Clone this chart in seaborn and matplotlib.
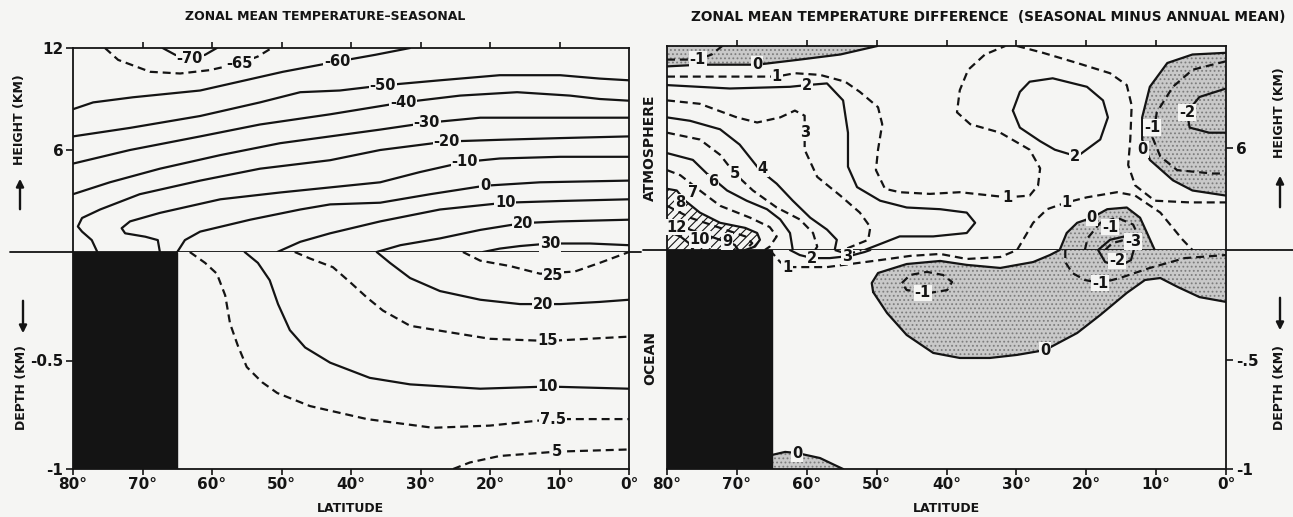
import matplotlib
matplotlib.use("Agg")
import matplotlib.pyplot as plt
from matplotlib.patches import FancyArrowPatch
import seaborn as sns

# ---------------------------------------------------------------------------
# Left panel: zonal mean temperature, seasonal (deg C).
# Each isoline: (level, latitudes in deg, heights in km)
# ---------------------------------------------------------------------------
TEMP_ATM = [
    (-70, [67.1, 65.3, 63.2, 61.0, 59.3], [12, 11.6, 11.4, 11.6, 12]),
    (-65, [75.4, 73.5, 68.9, 64.6, 60.3, 56.0, 53.4, 51.4],
          [12, 11.3, 10.6, 10.5, 10.7, 11.1, 11.5, 12]),
    (-60, [80, 77.1, 71.4, 61.7, 49.8, 42.0, 36.5, 31.5],
          [8.4, 8.8, 9.1, 9.5, 10.6, 11.2, 11.6, 12]),
    (-50, [80, 71.8, 61.7, 53.1, 47.3, 41.6, 35.4, 27.2, 18.6, 9.9, 4.2, 0],
          [6.8, 7.3, 8.0, 8.8, 9.4, 9.5, 9.8, 10.1, 10.4, 10.4, 10.2, 10.1]),
    (-40, [80, 71.8, 61.7, 53.1, 43.0, 32.5, 24.3, 16.1, 8.5, 4.2, 0],
          [5.2, 6.0, 6.8, 7.5, 8.1, 8.8, 9.2, 9.4, 9.2, 9.0, 8.9]),
    (-30, [80, 74.7, 67.5, 58.8, 50.2, 43.0, 35.8, 29.1, 21.4, 11.4, 0],
          [3.4, 4.1, 4.9, 5.7, 6.4, 6.8, 7.2, 7.6, 7.9, 7.9, 7.9]),
    (-20, [76.5, 77.3, 78.7, 79.3, 78.7, 76.1, 70.4, 61.7, 53.1, 43.0, 35.8, 26.2, 18.6, 9.9, 0],
          [0, 0.7, 1.2, 1.5, 2.0, 2.5, 3.4, 4.2, 4.9, 5.4, 6.0, 6.5, 6.6, 6.7, 6.8]),
    (-10, [67.5, 67.8, 69.6, 72.5, 73.0, 71.8, 67.5, 58.8, 50.2, 43.0, 35.8, 30.1, 23.6, 18.6, 9.9, 0],
          [0, 0.7, 0.9, 1.1, 1.4, 1.8, 2.3, 3.1, 3.5, 3.8, 4.1, 4.7, 5.3, 5.5, 5.6, 5.6]),
    (0, [65.0, 63.9, 61.7, 54.5, 47.3, 43.0, 35.8, 28.6, 20.7, 12.8, 0],
        [0, 0.7, 1.2, 1.9, 2.5, 2.8, 2.9, 3.4, 3.9, 4.1, 4.2]),
    (10, [50.6, 47.3, 43.0, 35.8, 27.2, 17.8, 9.9, 0],
         [0, 0.6, 1.1, 1.8, 2.5, 2.9, 3.0, 3.1]),
    (20, [36.3, 32.9, 27.2, 21.4, 15.3, 9.9, 0], [0, 0.4, 0.8, 1.3, 1.7, 1.8, 1.9]),
    (30, [21.0, 18.6, 15.7, 11.4, 5.6, 0], [0, 0.2, 0.35, 0.5, 0.5, 0.4]),
]
TEMP_ATM_LABELS = [(-70, 63.2, 11.4), (-65, 56.0, 11.1), (-60, 42.0, 11.2), (-50, 35.4, 9.8),
                   (-40, 32.5, 8.8), (-30, 29.1, 7.6), (-20, 26.2, 6.5), (-10, 23.6, 5.3),
                   (0, 20.7, 3.9), (10, 17.8, 2.9), (20, 15.3, 1.7), (30, 11.4, 0.5)]

# ocean: depth in km (negative downwards)
TEMP_OCEAN = [
    (7.5, [63.2, 61.0, 59.3, 58.1, 57.4, 56.3, 55.0, 52.8, 50.6, 45.9, 37.7, 28.2, 20.0, 10.9, 0],
          [0, -0.05, -0.1, -0.2, -0.33, -0.43, -0.53, -0.6, -0.65, -0.71, -0.77, -0.81, -0.8, -0.77, -0.77]),
    (10, [55.3, 53.4, 51.7, 50.5, 48.8, 46.6, 43.0, 37.3, 31.5, 21.4, 11.7, 0],
         [0, -0.05, -0.13, -0.24, -0.36, -0.44, -0.51, -0.58, -0.61, -0.63, -0.62, -0.63]),
    (15, [48.1, 45.9, 42.6, 40.1, 37.7, 35.4, 31.5, 25.8, 20.0, 11.7, 0],
         [0, -0.03, -0.07, -0.14, -0.21, -0.27, -0.34, -0.37, -0.4, -0.41, -0.39]),
    (20, [36.3, 34.4, 31.5, 27.2, 21.4, 15.7, 9.9, 4.2, 0],
         [0, -0.05, -0.12, -0.18, -0.22, -0.24, -0.24, -0.23, -0.22]),
    (25, [23.9, 21.4, 17.1, 12.8, 7.8, 4.2, 0], [0, -0.04, -0.065, -0.1, -0.09, -0.05, 0]),
    (5, [25.3, 22.9, 18.6, 10.4, 0], [-1.0, -0.97, -0.94, -0.92, -0.91]),
]
TEMP_OCEAN_LABELS = [(25, 10.9, -0.11), (20, 12.4, -0.24), (15, 11.7, -0.41),
                     (10, 11.7, -0.62), (7.5, 10.9, -0.77), (5, 10.4, -0.92)]

# ---------------------------------------------------------------------------
# Right panel: seasonal minus annual mean (deg C)
# ---------------------------------------------------------------------------
D0_TOP = ([80, 75.3, 67.1, 61.0, 55.2, 49.9], [10.8, 10.9, 10.9, 11.2, 11.5, 12])
D0_RIGHT = ([0, 4.8, 8.4, 10.9, 12.0, 12.0, 10.9, 7.6, 4.8, 0],
            [11.6, 11.5, 11.0, 9.6, 7.8, 6.5, 5.3, 4.1, 3.5, 3.2])
D0_BUMP = ([23.8, 22.8, 21.3, 19.2, 17.0, 14.2, 12.3, 11.3, 10.2],
           [0, 1.0, 1.6, 1.9, 2.4, 2.5, 1.9, 1.0, 0])
D8_LINE = ([80, 78.6, 77.4, 75.3, 72.4, 68.8, 67.1, 66.7, 67.4, 68.8],
           [3.6, 3.5, 2.9, 2.2, 1.6, 1.3, 1.0, 0.6, 0.2, 0])

DIFF_ATM = [
    (0, *D0_TOP),
    (-1, [80, 75.6, 73.6, 72.1], [11.2, 11.2, 11.5, 12]),
    (1, [80, 75.3, 69.6, 64.3, 61.7, 58.1, 54.5, 52.4, 49.8, 49.2, 49.8, 50.1, 48.8, 46.7,
         42.4, 38.1, 31.3, 28.1, 26.9, 26.6, 28.1, 32.3, 36.6, 38.5, 38.1, 36.9, 34.5, 31.6],
        [10.2, 10.2, 10.2, 10.2, 10.4, 10.3, 9.9, 9.3, 8.4, 7.4, 5.9, 4.7, 3.6, 3.4,
         3.3, 3.4, 3.1, 3.2, 3.8, 4.8, 5.9, 6.9, 7.4, 8.1, 9.4, 10.6, 11.5, 12]),
    (2, [80, 71.0, 62.4, 60.0, 57.1, 54.8, 54.1, 54.1, 52.8, 49.5, 45.7, 40.9, 37.1, 35.9,
         37.1, 41.9, 46.7, 49.5, 51.7],
        [9.7, 9.5, 9.6, 9.7, 9.8, 8.8, 6.9, 4.9, 3.7, 2.9, 2.5, 2.4, 2.2, 1.6,
         1.0, 0.8, 0.8, 0.35, 0]),
    (3, [80, 75.3, 70.0, 67.1, 63.8, 61.7, 60.3, 60.3, 58.5, 55.2, 52.4, 50.9, 51.2, 54.2],
        [8.8, 8.6, 7.8, 7.5, 7.8, 8.2, 7.9, 5.9, 4.3, 3.2, 2.2, 1.35, 0.6, 0.1]),
    (4, [80, 76.7, 72.4, 69.6, 66.7, 64.3, 62.0, 59.5, 57.1, 55.7, 56.0],
        [7.8, 7.6, 7.1, 6.2, 4.7, 3.9, 2.9, 1.9, 1.2, 0.6, 0]),
    (5, [80, 75.3, 72.4, 70.3, 67.7, 64.3, 61.0, 59.1, 58.5, 58.8],
        [6.9, 6.5, 5.6, 4.5, 3.5, 2.5, 1.8, 1.0, 0.2, 0]),
    (6, [80, 76.3, 74.3, 71.4, 68.6, 65.7, 63.8, 62.4, 62.0],
        [5.7, 5.3, 4.5, 3.5, 2.9, 2.4, 1.8, 1.0, 0]),
    (7, [80, 78.1, 75.3, 72.4, 68.1, 65.3, 64.3, 65.3, 66.0],
        [4.7, 4.4, 3.5, 2.6, 1.9, 1.35, 0.8, 0.2, 0]),
    (8, *D8_LINE),
    (9, [80, 76.7, 72.4, 68.8, 67.8, 68.8], [2.6, 1.9, 1.3, 0.8, 0.4, 0]),
    (10, [80, 76.7, 73.1, 70.3, 69.8], [1.8, 1.2, 0.7, 0.3, 0]),
    (12, [80, 78.1, 76.7, 76.3], [1.1, 0.8, 0.35, 0]),
    (1, [29.9, 26.2, 21.3, 16.6, 14.2, 13.5, 13.7, 14.0, 13.0, 10.2, 5.2, 0],
        [12, 11.6, 11.0, 10.4, 9.7, 8.5, 6.5, 5.0, 3.8, 2.9, 2.8, 2.8]),
    (2, [30.5, 29.5, 28.1, 24.8, 19.9, 17.6, 16.9, 18.0, 21.3, 24.5, 26.6, 29.5, 30.5],
        [8.2, 9.3, 9.9, 10.1, 9.6, 8.8, 7.8, 6.5, 5.5, 5.9, 6.4, 7.2, 8.2]),
    (0, *D0_RIGHT),
    (-1, [0, 1.0, 4.8, 7.6, 9.9, 10.5, 9.4, 7.0, 2.0, 0],
         [11.1, 11.0, 10.6, 9.6, 8.1, 6.6, 5.5, 4.7, 4.5, 4.5]),
    (-2, [0, 3.8, 5.6, 5.2, 2.4, 0], [9.5, 9.0, 8.1, 7.2, 6.9, 6.9]),
    (0, *D0_BUMP),
    (-1, [20.2, 19.8, 18.0, 15.6, 13.3, 12.3, 12.7], [0, 0.7, 1.6, 1.9, 1.5, 0.6, 0]),
    (-2, [13.2, 13.4, 14.5, 16.6, 18.3], [0, 0.5, 0.8, 0.6, 0]),
    (-3, [17.3, 16.3, 14.5, 12.7], [0, 0.4, 0.6, 0.3]),
    (1, [29.9, 27.6, 25.6, 22.8, 19.9, 15.6, 13.0, 9.4, 6.2, 4.8],
        [0, 1.6, 2.4, 2.8, 3.1, 3.4, 3.2, 2.2, 0.6, 0]),
]
DIFF_ATM_LABELS = [(-1, 75.6, 11.2), (0, 67.1, 10.9), (1, 64.3, 10.2), (2, 60.0, 9.7),
                   (3, 60.3, 6.9), (4, 66.3, 4.8), (5, 70.3, 4.5), (6, 73.4, 4.0),
                   (7, 76.3, 3.4), (8, 78.1, 2.8), (12, 78.6, 1.35), (10, 75.3, 0.6),
                   (9, 71.4, 0.5), (2, 21.6, 5.5), (1, 31.3, 3.1), (1, 22.8, 2.8),
                   (0, 11.9, 5.9), (-1, 10.6, 7.2), (-2, 5.6, 8.1), (0, 19.2, 1.9),
                   (-1, 16.6, 1.35), (-3, 13.3, 0.5)]

D0_OCE_UPPER = ([50.5, 50.7, 49.8, 45.7, 40.9, 37.1, 32.3, 27.6, 25.2, 23.8],
                [-0.192, -0.151, -0.105, -0.064, -0.05, -0.068, -0.082, -0.055, -0.023, 0])
D0_OCE_LOWER = ([0, 3.8, 6.9, 9.4, 11.6, 14.2, 18.0, 21.3, 25.9, 29.9, 33.8, 38.1, 41.9, 45.7, 48.5, 50.5],
                [-0.237, -0.215, -0.169, -0.128, -0.137, -0.196, -0.297, -0.379, -0.457, -0.479,
                 -0.493, -0.493, -0.47, -0.388, -0.288, -0.192])
D0_BOTTOM = ([65.0, 63.1, 61.4, 58.1, 56.0, 54.8], [-0.936, -0.922, -0.927, -0.95, -0.982, -1.0])

DIFF_OCEAN = [
    (1, [65.3, 63.8, 62.8, 57.1, 49.5, 45.2, 40.9, 37.1, 32.3, 29.9],
        [0, -0.055, -0.078, -0.078, -0.046, -0.027, -0.018, -0.041, -0.032, 0]),
    (2, [62.4, 61.0, 59.2, 56.7, 53.8, 51.7, 50.9], [0, -0.023, -0.037, -0.037, -0.027, -0.009, 0]),
    (3, [56.0, 55.0, 54.2, 53.0, 52.2], [0, -0.01, -0.015, -0.01, 0]),
    (0, *D0_OCE_UPPER),
    (0, *D0_OCE_LOWER),
    (-1, [46.4, 45.2, 42.8, 40.5, 39.2, 39.9, 42.4, 45.7, 46.4],
         [-0.151, -0.114, -0.1, -0.114, -0.146, -0.183, -0.196, -0.183, -0.151]),
    (-1, [23.0, 23.0, 22.0, 20.2, 18.0, 15.2, 10.9, 5.9, 0],
         [0, -0.055, -0.105, -0.137, -0.151, -0.128, -0.082, -0.037, -0.023]),
    (-2, [18.3, 17.3, 15.2, 13.6, 13.2], [0, -0.055, -0.073, -0.046, 0]),
    (0, *D0_BOTTOM),
]
DIFF_OCEAN_LABELS = [(1, 62.8, -0.078), (2, 59.2, -0.037), (3, 54.2, -0.03), (-2, 15.6, -0.05),
                     (-1, 18.0, -0.151), (-1, 43.4, -0.196), (0, 25.9, -0.457), (0, 61.4, -0.93)]

LAND_LAT = 65
LAT_TICKS = [80, 70, 60, 50, 40, 30, 20, 10, 0]

PAPER = "#f5f5f3"
INK = "#141414"
W, H = 1293, 517

sns.set_theme(style="ticks")
plt.rcParams.update({
    "font.family": ["DejaVu Sans"],
    "font.weight": "bold",
    "hatch.linewidth": 0.8,
    "axes.linewidth": 1.3,
})

fig = plt.figure(figsize=(W / 100, H / 100), dpi=100, facecolor=PAPER)


def px_axes(x0, y0, x1, y1):
    return fig.add_axes([x0 / W, 1 - y1 / H, (x1 - x0) / W, (y1 - y0) / H])


def fig_text(x, y, s, **kw):
    fig.text(x / W, 1 - y / H, s, color=INK, fontweight="bold", ha="center", va="center", **kw)


def fig_arrow(x, y0, y1):
    fig.add_artist(FancyArrowPatch((x / W, 1 - y0 / H), (x / W, 1 - y1 / H),
                                   transform=fig.transFigure, arrowstyle="-|>",
                                   mutation_scale=11, lw=1.7, color=INK))


def draw_lines(ax, lines, is_solid):
    for level, lats, hts in lines:
        ls = "-" if is_solid(level) else (0, (3.6, 2.2))
        sns.lineplot(x=lats, y=hts, ax=ax, sort=False, estimator=None,
                     color=INK, linewidth=1.6, linestyle=ls, zorder=3)


def draw_labels(ax, labels):
    for level, lat, h in labels:
        ax.text(lat, h, f"{level:g}", ha="center", va="center", fontsize=10.5,
                fontweight="bold", color=INK, zorder=6,
                bbox=dict(boxstyle="square,pad=0.06", fc=PAPER, ec="none"))


def style_axes(ax_atm, ax_oce, side, ocean_ticklabels):
    for ax in (ax_atm, ax_oce):
        ax.set_facecolor(PAPER)
        ax.set_xlim(80, 0)
        for sp in ax.spines.values():
            sp.set_color(INK)
            sp.set_linewidth(1.3)
    ax_atm.set_ylim(0, 12)
    ax_oce.set_ylim(-1, 0)
    ax_atm.spines["bottom"].set_visible(False)
    ax_oce.spines["top"].set_visible(False)

    ax_atm.set_xticks(LAT_TICKS[1:-1])
    ax_atm.tick_params(axis="x", top=True, bottom=False, labeltop=False, labelbottom=False,
                       direction="out", length=4, width=1.2, color=INK)
    ax_oce.set_xticks(LAT_TICKS)
    ax_oce.set_xticklabels([f"{t}\u00b0" for t in LAT_TICKS])
    ax_oce.tick_params(axis="x", direction="out", length=4, width=1.2, color=INK,
                       labelsize=11, labelcolor=INK, pad=2)

    left = side == "left"
    ax_atm.set_yticks([6, 12] if left else [6])
    ax_atm.set_yticklabels(["6", "12"] if left else ["6"])
    ax_oce.set_yticks([-0.5, -1])
    ax_oce.set_yticklabels(ocean_ticklabels)
    for ax in (ax_atm, ax_oce):
        ax.tick_params(axis="y", left=left, right=not left, labelleft=left, labelright=not left,
                       direction="out", length=5, width=1.2, color=INK, labelsize=11,
                       labelcolor=INK, pad=2)
        ax.set_xlabel("")
        ax.set_ylabel("")


STIPPLE = dict(facecolor="#c9c9c9", edgecolor="#7d7d7d", hatch="....", linewidth=0, zorder=1)

# ---------------- left panel ----------------
la = px_axes(73, 48, 629, 252)
lo = px_axes(73, 252, 629, 469)
draw_lines(la, TEMP_ATM, lambda v: v % 10 == 0)
draw_lines(lo, TEMP_OCEAN, lambda v: v % 10 == 0)
draw_labels(la, TEMP_ATM_LABELS)
draw_labels(lo, TEMP_OCEAN_LABELS)
lo.axvspan(80, LAND_LAT, color=INK, zorder=4)
style_axes(la, lo, "left", ["-0.5", "-1"])
la.axhline(0, xmin=(10 - 73) / 556, xmax=(641 - 73) / 556, color=INK, lw=1.3, clip_on=False, zorder=5)

# ---------------- right panel ----------------
ra = px_axes(667, 46, 1226, 250)
ro = px_axes(667, 250, 1226, 469)

ra.fill(list(D0_TOP[0]) + [80], list(D0_TOP[1]) + [12], **STIPPLE)
ra.fill(D0_RIGHT[0], D0_RIGHT[1], **STIPPLE)
ra.fill(D0_BUMP[0], D0_BUMP[1], **STIPPLE)
ra.fill(list(D8_LINE[0]) + [80], list(D8_LINE[1]) + [0], facecolor="none",
        edgecolor=INK, hatch="////", linewidth=0, zorder=1)
ro.fill(list(D0_OCE_UPPER[0]) + [0] + list(D0_OCE_LOWER[0]),
        list(D0_OCE_UPPER[1]) + [0] + list(D0_OCE_LOWER[1]), **STIPPLE)
ro.fill(list(D0_BOTTOM[0]) + [LAND_LAT], list(D0_BOTTOM[1]) + [-1], **STIPPLE)

draw_lines(ra, DIFF_ATM, lambda v: v % 2 == 0)
draw_lines(ro, DIFF_OCEAN, lambda v: v % 2 == 0)
draw_labels(ra, DIFF_ATM_LABELS)
draw_labels(ro, DIFF_OCEAN_LABELS)
ro.axvspan(80, LAND_LAT, color=INK, zorder=4)
style_axes(ra, ro, "right", ["-.5", "-1"])
ra.axhline(0, xmin=(643 - 667) / 559, xmax=(1293 - 667) / 559, color=INK, lw=1.3, clip_on=False, zorder=5)

# ---------------- titles and side labels ----------------
fig_text(325, 17, "ZONAL MEAN TEMPERATURE\u2013SEASONAL", fontsize=9)
fig_text(988, 17, "ZONAL MEAN TEMPERATURE DIFFERENCE  (SEASONAL MINUS ANNUAL MEAN)", fontsize=9.8)
fig_text(350, 508, "LATITUDE", fontsize=9)
fig_text(946, 508, "LATITUDE", fontsize=9)

fig_text(20, 120, "HEIGHT (KM)", fontsize=9, rotation=90)
fig_arrow(20, 212, 176)
fig_text(22, 388, "DEPTH (KM)", fontsize=9, rotation=90)
fig_arrow(23, 298, 336)
fig_text(650, 148, "ATMOSPHERE", fontsize=10, rotation=90)
fig_text(650, 358, "OCEAN", fontsize=10, rotation=90)
fig_text(1280, 113, "HEIGHT (KM)", fontsize=9, rotation=90)
fig_arrow(1280, 210, 173)
fig_text(1280, 388, "DEPTH (KM)", fontsize=9, rotation=90)
fig_arrow(1280, 295, 333)

fig.savefig("out.png", dpi=100, facecolor=PAPER)
